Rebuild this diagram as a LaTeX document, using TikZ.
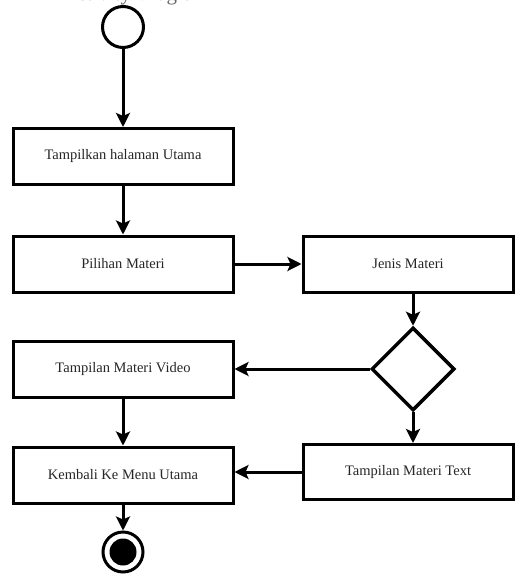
\documentclass[tikz,border=0pt]{standalone}
\usepackage{fontspec}
\setmainfont{Liberation Serif}
\usetikzlibrary{shapes.geometric,arrows.meta}
\begin{document}
\begin{tikzpicture}[x=1pt,y=-1pt,
  actbox/.style={draw=black, line width=3pt, fill=white, minimum width=220pt, minimum height=56pt, inner sep=0pt, font=\fontsize{14.5}{16}\selectfont, text=black!85},
  flow/.style={line width=3pt, -{Stealth[length=14pt,width=14pt,inset=3pt]}},
  decision/.style={draw=black, diamond, line width=3.5pt, minimum width=83pt, minimum height=83pt, inner sep=0pt, aspect=1}
]
\useasboundingbox (0,0) rectangle (515,575);
\clip (0,0) rectangle (515,575);
\fill[white] (0,0) rectangle (515,575);

\node[anchor=base west, font=\fontsize{21}{24}\selectfont, text=black!60, inner sep=0pt] (title) at (62,0.5) {Activity Diagram};

\node[draw=black, circle, line width=3pt, minimum size=41pt, inner sep=0pt] (start) at (123,27) {};

\node[actbox] (b1) at (123,156.5) {Tampilkan halaman Utama};
\node[actbox] (b2) at (123,264) {Pilihan Materi};
\node[actbox, minimum width=210pt] (b3) at (408,264) {Jenis Materi};
\node[decision] (dec) at (413,369) {};
\node[actbox] (b4) at (123,369.5) {Tampilan Materi Video};
\node[actbox] (b5) at (123,475) {Kembali Ke Menu Utama};
\node[actbox, minimum width=210pt, minimum height=55pt] (b6) at (408,472) {Tampilan Materi Text};

\node[draw=black, circle, line width=3pt, minimum size=40pt, inner sep=0pt] (end) at (123,552) {};
\node[fill=black, circle, minimum size=27pt, inner sep=0pt] (endin) at (end.center) {};

\draw[flow] (start) -- (b1);
\draw[flow] (b1) -- (b2);
\draw[flow] (b2) -- (b3);
\draw[flow] (dec.north |- b3.south) -- (dec.north);
\draw[flow] (dec.west) -- (dec.west -| b4.east);
\draw[flow] (dec.south) -- (dec.south |- b6.north);
\draw[flow] (b4) -- (b5);
\draw[flow] (b6.west) -- (b6.west -| b5.east);
\draw[flow] (b5) -- (end);
\end{tikzpicture}
\end{document}
